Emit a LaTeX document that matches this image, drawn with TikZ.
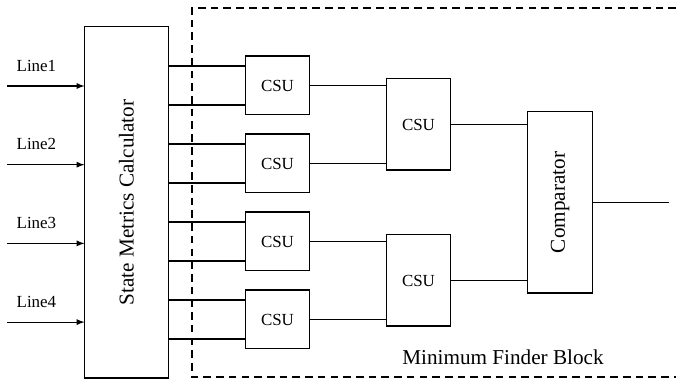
\documentclass[tikz,border=0pt]{standalone}
\usepackage{fontspec}
\setmainfont{Liberation Serif}
\usetikzlibrary{arrows,positioning}

\tikzset{
  unit/.style={draw, line width=0.6pt, minimum width=37.2pt, minimum height=34.8pt, inner sep=0pt, font=\fontsize{10}{12}\selectfont},
  wideunit/.style={unit, minimum height=53.7pt},
  wire/.style={line width=0.6pt},
  finder/.style={line width=0.6pt, dash pattern=on 4.5pt off 3pt},
  bigtext/.style={font=\fontsize{12.5}{15}\selectfont},
}

\begin{document}
\begin{tikzpicture}[x=0.59pt, y=-0.59pt]
\useasboundingbox (0,0) rectangle (676,379);
% minimum finder frame
\draw[finder] (676,8) -- (192,8) -- (192,377) -- (676,377);
\node[bigtext] (mfb) at (503,357) {Minimum Finder Block};
% blocks
\node[unit, minimum width=49pt, minimum height=207.1pt, label={[rotate=90,bigtext]center:State Metrics Calculator}] (smc) at (126.5,202.5) {};
\node[unit] (csu1) at (277.5,85.5) {CSU};
\node[unit] (csu2) at (277.5,163.5) {CSU};
\node[unit] (csu3) at (277.5,241.5) {CSU};
\node[unit] (csu4) at (277.5,319.5) {CSU};
\node[wideunit] (csu5) at (418.5,124.5) {CSU};
\node[wideunit] (csu6) at (418.5,280.5) {CSU};
\node[unit, minimum width=37.8pt, minimum height=106.8pt, label={[rotate=90,bigtext]center:Comparator}] (cmp) at (560,202.5) {};
% inputs
\foreach \n in {1,...,4} {
  \coordinate (src\n) at (7,{86+78.7*(\n-1)});
  \draw[wire,-latex] (src\n) -- (src\n -| smc.west) node[pos=0.38, above=5pt, font=\fontsize{10}{12}\selectfont] {Line\n};
}
% state metrics to CSUs
\foreach \n in {1,...,4} {
  \path (csu\n.west) ++(0,-19.5) coordinate (ina\n) ++(0,39) coordinate (inb\n);
  \draw[wire] (smc.east |- ina\n) -- (ina\n);
  \draw[wire] (smc.east |- inb\n) -- (inb\n);
}
% second stage
\draw[wire] (csu1.east) -- (csu1.east -| csu5.west);
\draw[wire] (csu2.east) -- (csu2.east -| csu5.west);
\draw[wire] (csu3.east) -- (csu3.east -| csu6.west);
\draw[wire] (csu4.east) -- (csu4.east -| csu6.west);
\draw[wire] (csu5.east) -- (csu5.east -| cmp.west);
\draw[wire] (csu6.east) -- (csu6.east -| cmp.west);
\coordinate (out) at (669,202.5);
\draw[wire] (cmp.east) -- (out);
\end{tikzpicture}
\end{document}
